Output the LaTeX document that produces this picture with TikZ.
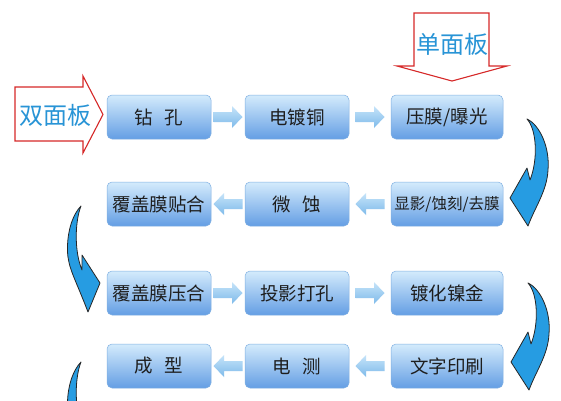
\documentclass[tikz,border=0pt]{standalone}
\usepackage{fontspec}
\newfontfamily\cjk{Noto Sans CJK SC}
\usetikzlibrary{calc}
\definecolor{boxtop}{RGB}{212,235,252}
\definecolor{boxbot}{RGB}{100,158,228}
\definecolor{boxline}{RGB}{128,176,226}
\definecolor{arrtop}{RGB}{198,228,249}
\definecolor{arrbot}{RGB}{126,186,234}
\definecolor{curvefill}{RGB}{38,156,226}
\definecolor{redline}{RGB}{214,40,40}
\definecolor{labelblue}{RGB}{40,148,214}
\definecolor{textgray}{RGB}{30,30,30}
\newcommand\flowR[2]{%
  \begin{scope}[shift={($(#1.east)!0.5!(#2.west)$)}]
    \shade[flowshade] (-14.5,-5) -- (4,-5) -- (4,-11) -- (14.5,0) -- (4,11) -- (4,5) -- (-14.5,5) -- cycle;
  \end{scope}}
\newcommand\flowL[2]{%
  \begin{scope}[shift={($(#1.west)!0.5!(#2.east)$)},xscale=-1]
    \shade[flowshade] (-14.5,-5) -- (4,-5) -- (4,-11) -- (14.5,0) -- (4,11) -- (4,5) -- (-14.5,5) -- cycle;
  \end{scope}}
\newcommand\gap{\hspace{0.6em}}
\begin{document}
\begin{tikzpicture}[x=1pt,y=-1pt,
  stepbox/.style={rectangle, rounded corners=5pt, top color=boxtop, bottom color=boxbot,
    draw=boxline, line width=0.5pt, minimum height=44pt, inner sep=0pt,
    font=\cjk\fontsize{18.5}{20}\selectfont, text=textgray},
  colA/.style={stepbox, minimum width=104pt},
  colC/.style={stepbox, minimum width=112pt},
  flowshade/.style={top color=arrtop, bottom color=arrbot, draw=none},
  turnarrow/.style={fill=curvefill, draw=black!85, line width=0.8pt, line join=round},
  bigarrow/.style={fill=white, draw=redline, line width=1.1pt, line join=miter},
  boardlabel/.style={font=\cjk\fontsize{24}{26}\selectfont, text=labelblue, inner sep=0pt}
]
\fill[white] (0,0) rectangle (561,400);
\useasboundingbox (0,0) rectangle (561,400);
\clip (0,0) rectangle (561,400);

% red entry arrows
\draw[bigarrow] (15,87) -- (83,87) -- (83,76) -- (103,114.5) -- (83,153) -- (83,141) -- (15,141) -- cycle;
\node[boardlabel] (double) at (55,115) {双面板};
\draw[bigarrow] (414,13) -- (489,13) -- (489,66) -- (507,66) -- (452,81) -- (397,66) -- (414,66) -- cycle;
\node[boardlabel] (single) at (452,44) {单面板};

% process boxes
\node[colA] (drill)   at (159,117) {钻\gap 孔};
\node[colA] (plate)   at (297,117) {电镀铜};
\node[colC] (expose)  at (447,117) {压膜/曝光};
\node[colC] (develop) at (447,204) {\fontsize{15.5}{17}\selectfont 显影/蚀刻/去膜};
\node[colA] (micro)   at (297,204) {微\gap 蚀};
\node[colA] (cover)   at (159,204) {覆盖膜贴合};
\node[colA] (press)   at (159,293) {覆盖膜压合};
\node[colA] (punch)   at (297,293) {投影打孔};
\node[colC] (gold)    at (447,293) {镀化镍金};
\node[colC] (print)   at (447,366) {文字印刷};
\node[colA] (etest)   at (297,366) {电\gap 测};
\node[colA] (shape)   at (159,366) {成\gap 型};

% straight flow arrows
\flowR{drill}{plate}
\flowR{plate}{expose}
\flowL{develop}{micro}
\flowL{micro}{cover}
\flowR{press}{punch}
\flowR{punch}{gold}
\flowL{print}{etest}
\flowL{etest}{shape}

% curved turn arrows (right side)
\begin{scope}[shift={(527,119)}]
  \draw[turnarrow] (0,0) .. controls (13,6) and (23,29) .. (21,51) .. controls (20,72) and (8,88) .. (1,107)
    -- (-17,79) -- (0,49) -- (3,61) .. controls (11,41) and (10,11) .. (0,0) -- cycle;
\end{scope}
\begin{scope}[shift={(528,283)}]
  \draw[turnarrow] (0,0) .. controls (13,6) and (23,29) .. (21,51) .. controls (20,72) and (8,88) .. (1,107)
    -- (-17,79) -- (0,49) -- (3,61) .. controls (11,41) and (10,11) .. (0,0) -- cycle;
\end{scope}
% curved turn arrows (left side)
\begin{scope}[shift={(81,206)}]
  \draw[turnarrow] (0,0) .. controls (-8,8) and (-14,25) .. (-13.5,45) .. controls (-13,62) and (-6,72) .. (7,106)
    -- (19,77) -- (1,49) -- (1,64) .. controls (-7,45) and (-6,15) .. (0,0) -- cycle;
\end{scope}
\begin{scope}[shift={(81,362)}]
  \draw[turnarrow] (0,0) .. controls (-8,8) and (-14,25) .. (-13.5,45) .. controls (-13,62) and (-6,72) .. (7,106)
    -- (19,77) -- (1,49) -- (1,64) .. controls (-7,45) and (-6,15) .. (0,0) -- cycle;
\end{scope}
\end{tikzpicture}
\end{document}
